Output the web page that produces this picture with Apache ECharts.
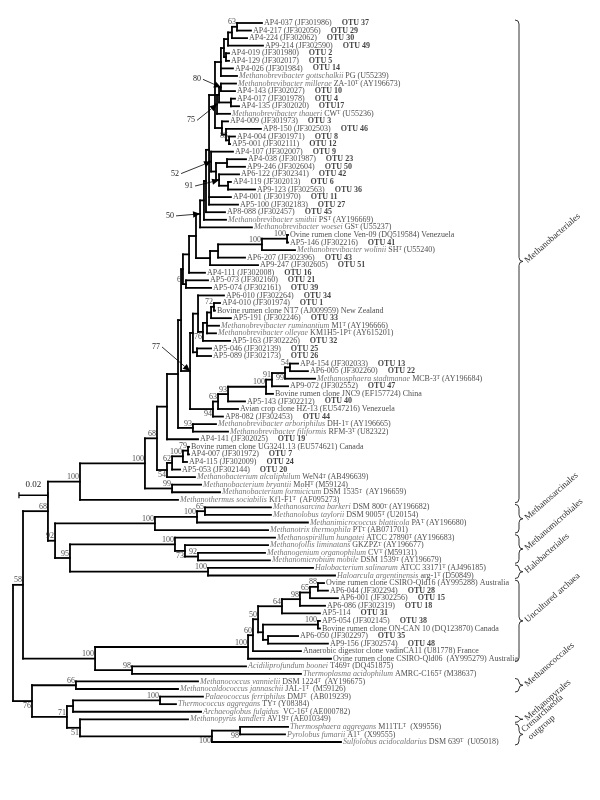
<!DOCTYPE html>
<html><head><meta charset="utf-8">
<script src="https://cdn.jsdelivr.net/npm/echarts@6/dist/echarts.min.js"></script>
<style>html,body{margin:0;padding:0;background:#fff}#c{width:600px;height:800px}</style>
</head><body><div id="c"></div>
<script>
// ---------- DATA ----------
// leaves, top to bottom; "^T" marks a superscript type-strain T
const leafTaxon = ['','','','','','','','Methanobrevibacter gottschalkii','Methanobrevibacter millerae','',
'','','Methanobrevibacter thaueri','','','','','','','',
'','','','','','','Methanobrevibacter smithii','Methanobrevibacter woesei','','',
'Methanobrevibacter wolinii','','','','','','','','','',
'Methanobrevibacter ruminantium','Methanobrevibacter olleyae','','','','','','Methanosphaera stadtmanae','','',
'','','','Methanobrevibacter arboriphilus','Methanobrevibacter filiformis','','','','','',
'Methanobacterium alcaliphilum','Methanobacterium bryantii','Methanobacterium formicicum','Methanothermus sociabilis','Methanosarcina barkeri','Methanolobus taylorii','Methanimicrococcus blatticola','Methanotrix thermophila','Methanospirillum hungatei','Methanofollis liminatans',
'Methanogenium organophilum','Methanomicrobium mobile','Halobacterium salinarum','Haloarcula argentinensis','','','','','','',
'','','','','','Acidiliprofundum boonei','Thermoplasma acidophilum','Methanococcus vannielii','Methanocaldococcus jannaschii','Palaeococcus ferriphilus',
'Thermococcus aggregans','Archaeoglobus fulgidus','Methanopyrus kandleri','Thermosphaera aggregans','Pyrolobus fumarii','Sulfolobus acidocaldarius'];
const leafDetail = ['AP4-037 (JF301986)','AP4-217 (JF302056)','AP4-224 (JF302062)','AP9-214 (JF302590)','AP4-019 (JF301980)','AP4-129 (JF302017)','AP4-026 (JF301984)','PG (U55239)','ZA-10^T (AY196673)','AP4-143 (JF302027)',
'AP4-017 (JF301978)','AP4-135 (JF302020)','CW^T (U55236)','AP4-009 (JF301973)','AP8-150 (JF302503)','AP4-004 (JF301971)','AP5-001 (JF302111)','AP4-107 (JF302007)','AP4-038 (JF301987)','AP9-246 (JF302604)',
'AP6-122 (JF302341)','AP4-119 (JF302013)','AP9-123 (JF302563)','AP4-001 (JF301970)','AP5-100 (JF302183)','AP8-088 (JF302457)','PS^T (AY196669)','GS^T (U55237)','Ovine rumen clone Ven-09 (DQ519584) Venezuela','AP5-146 (JF302216)',
'SH^T (U55240)','AP6-207 (JF302396)','AP9-247 (JF302605)','AP4-111 (JF302008)','AP5-073 (JF302160)','AP5-074 (JF302161)','AP6-010 (JF302264)','AP4-010 (JF301974)','Bovine rumen clone NT7 (AJ009959) New Zealand','AP5-191 (JF302246)',
'M1^T (AY196666)','KM1H5-1P^T (AY615201)','AP5-163 (JF302226)','AP5-046 (JF302139)','AP5-089 (JF302173)','AP4-154 (JF302033)','AP6-005 (JF302260)','MCB-3^T (AY196684)','AP9-072 (JF302552)','Bovine rumen clone JNC9 (EF157724) China',
'AP5-143 (JF302212)','Avian crop clone HZ-13 (EU547216) Venezuela','AP8-082 (JF302453)','DH-1^T (AY196665)','RFM-3^T (U82322)','AP4-141 (JF302025)','Bovine rumen clone UG3241.13 (EU574621) Canada','AP4-007 (JF301972)','AP4-115 (JF302009)','AP5-053 (JF302144)',
'WeN4^T (AB496639)','MoH^T (M59124)','DSM 1535^T  (AY196659)','Kf1-F1^T  (AF095273)','DSM 800^T (AY196682)','DSM 9005^T (U20154)','PA^T (AY196680)','PT^T (AB071701)','ATCC 27890^T (AY196683)','GKZPZ^T (AY196677)',
'CV^T (M59131)','DSM 1539^T (AY196679)','ATCC 33171^T (AJ496185)','arg-1^T (D50849)','Ovine rumen clone CSIRO-Qld16 (AY995288) Australia','AP6-044 (JF302294)','AP6-001 (JF302256)','AP6-086 (JF302319)','AP5-114','AP5-054 (JF302145)',
'Bovine rumen clone ON-CAN 10 (DQ123870) Canada','AP6-050 (JF302297)','AP9-156 (JF302574)','Anaerobic digestor clone vadinCA11 (U81778) France','Ovine rumen clone CSIRO-Qld06  (AY995279) Australia','T469^T (DQ451875)','AMRC-C165^T (M38637)','DSM 1224^T  (AY196675)','JAL-1^T  (M59126)','DMJ^T  (AB019239)',
'TY^T (Y08384)',' VC-16^T (AE000782)','AV19^T (AE010349)','M11TL^T  (X99556)','A1^T  (X99555)','DSM 639^T  (U05018)'];
const leafOtu = ['OTU 37','OTU 29','OTU 30','OTU 49','OTU 2','OTU 5','OTU 14','','','OTU 10',
'OTU 4','OTU17','','OTU 3','OTU 46','OTU 8','OTU 12','OTU 9','OTU 23','OTU 50',
'OTU 42','OTU 6','OTU 36','OTU 11','OTU 27','OTU 45','','','','OTU 41',
'','OTU 43','OTU 51','OTU 16','OTU 21','OTU 39','OTU 34','OTU 1','','OTU 33',
'','','OTU 32','OTU 25','OTU 26','OTU 13','OTU 22','','OTU 47','',
'OTU 40','','OTU 44','','','OTU 19','','OTU 7','OTU 24','OTU 20',
'','','','','','','','','','',
'','','','','','OTU 28','OTU 15','OTU 18','OTU 31','OTU 38',
'','OTU 35','OTU 48','','','','','','','',
'','','','','',''];
// root-to-tip distance (substitutions per site)
const leafDepth = [0.1717,0.1641,0.1614,0.1724,0.1490,0.1490,0.1517,0.1545,0.1538,0.1531,
0.1531,0.1559,0.1497,0.1483,0.1710,0.1531,0.1497,0.1517,0.1607,0.1600,
0.1559,0.1503,0.1669,0.1503,0.1552,0.1462,0.1469,0.1648,0.1897,0.1897,
0.1945,0.1600,0.1690,0.1324,0.1345,0.1366,0.1455,0.1428,0.1393,0.1503,
0.1421,0.1400,0.1497,0.1366,0.1366,0.1966,0.2034,0.2083,0.1897,0.1793,
0.1600,0.1552,0.1448,0.1400,0.1483,0.1276,0.1214,0.1214,0.1200,0.1152,
0.1255,0.1297,0.1428,0.1138,0.1779,0.1779,0.2034,0.1759,0.1807,0.1759,
0.1738,0.1772,0.2069,0.2221,0.2145,0.2172,0.2241,0.2152,0.2117,0.2117,
0.2117,0.1966,0.2172,0.1986,0.2193,0.1607,0.1986,0.1276,0.1138,0.1310,
0.1124,0.1297,0.1207,0.1897,0.1876,0.2262];
// clades: [first leaf, last leaf (1-based), root-to-node distance, bootstrap]
const clades = [
[1,2,0.1545,'63'],[1,3,0.1510,''],[1,4,0.1483,''],[5,6,0.1469,''],[1,6,0.1455,''],[1,8,0.1434,''],
[9,10,0.1434,'80'],[11,12,0.1503,''],[9,12,0.1421,''],[9,13,0.1407,'75'],
[16,17,0.1490,'85'],[15,17,0.1469,''],[14,17,0.1441,''],[1,17,0.1393,''],
[19,20,0.1476,''],[22,23,0.1483,''],[21,23,0.1421,'91'],[19,23,0.1400,''],[18,23,0.1366,'52'],
[1,25,0.1352,''],[1,26,0.1331,''],[1,27,0.1317,''],[1,28,0.1290,'50'],
[29,30,0.1890,'100'],[29,31,0.1717,'100'],[29,32,0.1414,''],[29,33,0.1359,''],
[1,33,0.1262,''],[1,34,0.1214,''],[35,36,0.1193,'61'],[1,36,0.1172,''],
[38,39,0.1386,'72'],[38,40,0.1366,''],[38,42,0.1338,''],[38,43,0.1310,'76'],[37,43,0.1276,''],
[44,45,0.1269,''],[37,45,0.1241,''],
[46,47,0.1910,'54'],[46,48,0.1876,'99'],[46,49,0.1786,'91'],[46,50,0.1745,'100'],[46,51,0.1483,'93'],
[46,52,0.1414,'63'],[46,53,0.1379,'94'],[37,53,0.1221,'77'],[1,53,0.1159,''],
[54,55,0.1241,'93'],[1,55,0.1138,''],[1,56,0.1062,''],
[57,58,0.1207,'79'],[57,59,0.1172,'100'],[57,60,0.1097,'62'],[57,61,0.1062,'54'],[1,61,0.0993,'68'],
[62,63,0.1097,'99'],[1,63,0.0910,'100'],[1,64,0.0462,'100'],
[65,66,0.1324,'65'],[65,67,0.1269,'100'],[65,68,0.0979,'100'],
[71,72,0.1276,'92'],[70,72,0.1186,'73'],[69,72,0.1117,'100'],[73,74,0.1345,'100'],
[69,74,0.0393,'95'],[65,74,0.0290,'92'],[1,74,0.0241,'68'],
[75,76,0.2103,'88'],[75,77,0.2048,'65'],[75,78,0.1979,'98'],[75,79,0.1855,'64'],
[80,81,0.2103,'100'],[82,83,0.1759,''],[80,83,0.1724,''],[75,83,0.1690,'50'],
[75,84,0.1655,'60'],[75,85,0.1621,'100'],[86,87,0.0821,'98'],[75,87,0.0566,'100'],[1,87,0.0069,'58'],
[88,89,0.0434,'66'],[90,91,0.1014,'100'],[90,92,0.0414,''],[94,95,0.1566,'98'],[94,96,0.1372,'100'],
[93,96,0.0462,'51'],[90,96,0.0372,'71'],[88,96,0.0131,'76']];
const groupNames = ['Methanobacteriales','Methanosarcinales','Methanomicrobiales','Halobacteriales','Uncultured archaea','Methanococcales','Methanopyrales','Crenarchaeota\noutgroup'];
const groupFirst = [1,65,69,73,75,88,93,94];
const groupLast  = [64,68,72,74,85,89,93,96];
const scaleLength = 0.02;
const scaleLabel = '0.02';

// ---------- LAYOUT / STYLE ----------
const FONT = '"Liberation Serif","Times New Roman","DejaVu Serif",serif';
const belowLabels = ['46-53','46-48','57-61','70-72','94-95','94-96','93-96','88-96','38-43'];
const arrowOffsets = {'9-10':[-20,-8],'9-13':[-22,16],'18-23':[-32,12],'21-23':[-26,6],'1-28':[-26,2],'37-53':[-30,-24]};
const braceX = 519;
const scalePos = [0.0041, 62.4];

// ---------- TREE ----------
const N = leafDepth.length;
const nodes = [{first:0,last:N-1,depth:0,support:'',root:true,key:'root'}];
clades.forEach(c=>nodes.push({first:c[0]-1,last:c[1]-1,depth:c[2],support:c[3],key:c[0]+'-'+c[1]}));
const leaves = leafDepth.map((d,i)=>({first:i,last:i,depth:d,leaf:true,y:i}));
const span = n=>n.last-n.first;
nodes.forEach(c=>c.children=[]);
nodes.concat(leaves).forEach(n=>{
  if(n.root) return;
  let best=null;
  nodes.forEach(c=>{
    if(c===n) return;
    if(c.first<=n.first && c.last>=n.last && span(c)>span(n)){
      if(!best || span(c)<span(best)) best=c;
    }
  });
  n.parent=best; best.children.push(n);
});
nodes.slice().sort((a,b)=>span(a)-span(b)).forEach(c=>{
  c.children.sort((a,b)=>a.first-b.first);
  c.y=(c.children[0].y+c.children[c.children.length-1].y)/2;
});
const segs=[];
nodes.concat(leaves).forEach(n=>{ if(n.parent) segs.push([n.parent.depth,n.y,n.depth,n.y]); });
nodes.forEach(c=>segs.push([c.depth,c.children[0].y,c.depth,c.children[c.children.length-1].y]));

const supAbove=[], supBelow=[], arrows=[];
nodes.forEach(c=>{
  if(!c.support) return;
  if(arrowOffsets[c.key]) arrows.push({depth:c.depth,y:c.y,text:c.support,off:arrowOffsets[c.key]});
  else if(belowLabels.indexOf(c.key)>=0) supBelow.push([c.depth,c.y,c.support]);
  else supAbove.push([c.depth,c.y,c.support]);
});

function leafRich(i){
  let s='';
  if(leafTaxon[i]) s+='{i|'+leafTaxon[i]+'} ';
  s+=leafDetail[i].split('^T').map(t=>t?'{n|'+t+'}':'').join('{s|T}');
  if(leafOtu[i]) s+='{n|     }{b|'+leafOtu[i]+'}';
  return s;
}

const chart = echarts.init(document.getElementById('c'));
const supLabel = (below)=>({show:true,formatter:p=>p.data[2],position:[-1,below?1:-0.5],align:'right',verticalAlign:below?'top':'bottom',fontSize:8,fontFamily:FONT,color:'#222'});
chart.setOption({
  animation:false,
  backgroundColor:'#fff',
  grid:{left:13,top:23,width:580,height:719},
  xAxis:{type:'value',min:0,max:0.4,show:false},
  yAxis:{type:'value',min:0,max:95,inverse:true,show:false},
  series:[
    {type:'custom',coordinateSystem:'cartesian2d',silent:true,data:segs,
     renderItem:(p,api)=>{
       const a=api.coord([api.value(0),api.value(1)]), b=api.coord([api.value(2),api.value(3)]);
       return {type:'line',shape:{x1:a[0],y1:a[1],x2:b[0],y2:b[1]},style:{stroke:'#000',lineWidth:1.8,lineCap:'square'}};
     }},
    {type:'scatter',silent:true,symbolSize:0,data:leafDepth.map((d,i)=>[d,i]),
     label:{show:true,position:'right',distance:2,fontSize:8,fontFamily:FONT,color:'#222',
       formatter:p=>leafRich(p.dataIndex),
       rich:{
         i:{fontSize:8,fontFamily:FONT,fontStyle:'italic',color:'#555'},
         n:{fontSize:8,fontFamily:FONT,color:'#222'},
         s:{fontSize:5.5,fontFamily:FONT,color:'#222',verticalAlign:'top'},
         b:{fontSize:8,fontFamily:FONT,fontWeight:'bold',color:'#111'}
       }}},
    {type:'scatter',silent:true,symbolSize:0,data:supAbove,label:supLabel(false)},
    {type:'scatter',silent:true,symbolSize:0,data:supBelow,label:supLabel(true)},
    {type:'custom',coordinateSystem:'cartesian2d',silent:true,data:arrows.map(a=>[a.depth,a.y]),
     renderItem:(p,api)=>{
       const a=arrows[p.dataIndex];
       const pt=api.coord([a.depth,a.y]);
       const lx=pt[0]+a.off[0], ly=pt[1]+a.off[1];
       const sx=lx+2, ang=Math.atan2(pt[1]-ly,pt[0]-sx);
       const L=7,W=3.2;
       const bx=pt[0]-L*Math.cos(ang), by=pt[1]-L*Math.sin(ang);
       const px=-Math.sin(ang)*W, py=Math.cos(ang)*W;
       return {type:'group',children:[
         {type:'text',x:lx,y:ly,style:{text:a.text,align:'right',verticalAlign:'middle',fontSize:8,fontFamily:FONT,fill:'#222'}},
         {type:'line',shape:{x1:sx,y1:ly,x2:bx,y2:by},style:{stroke:'#000',lineWidth:0.8}},
         {type:'polygon',shape:{points:[[pt[0],pt[1]],[bx+px,by+py],[bx-px,by-py]]},style:{fill:'#000'}}
       ]};
     }},
    {type:'custom',coordinateSystem:'cartesian2d',silent:true,data:[scalePos],
     renderItem:(p,api)=>{
       const a=api.coord([api.value(0),api.value(1)]), b=api.coord([api.value(0)+scaleLength,api.value(1)]);
       return {type:'group',children:[
         {type:'line',shape:{x1:a[0],y1:a[1],x2:b[0],y2:b[1]},style:{stroke:'#000',lineWidth:1.5}},
         {type:'line',shape:{x1:a[0],y1:a[1]-3,x2:a[0],y2:a[1]+3},style:{stroke:'#000',lineWidth:1.2}},
         {type:'line',shape:{x1:b[0],y1:b[1]-3,x2:b[0],y2:b[1]+3},style:{stroke:'#000',lineWidth:1.2}},
         {type:'text',x:(a[0]+b[0])/2,y:a[1]-6,style:{text:scaleLabel,align:'center',verticalAlign:'bottom',fontSize:9,fontFamily:FONT,fill:'#222'}}
       ]};
     }},
    {type:'custom',coordinateSystem:'cartesian2d',silent:true,data:groupFirst.map((f,i)=>[f-1,groupLast[i]-1]),
     renderItem:(p,api)=>{
       const y1=api.coord([0,api.value(0)])[1]-3, y2=api.coord([0,api.value(1)])[1]+3;
       const ym=(y1+y2)/2, x=braceX, r=Math.min(4,(y2-y1)/4), w=4;
       const d='M'+(x-w)+' '+y1+' Q'+x+' '+y1+' '+x+' '+(y1+r)+' L'+x+' '+(ym-r)+' Q'+x+' '+ym+' '+(x+w)+' '+ym+
               ' Q'+x+' '+ym+' '+x+' '+(ym+r)+' L'+x+' '+(y2-r)+' Q'+x+' '+y2+' '+(x-w)+' '+y2;
       return {type:'group',children:[
         {type:'path',shape:{pathData:d},style:{fill:null,stroke:'#333',lineWidth:1}},
         {type:'text',x:x+7,y:ym,rotation:0.72,style:{text:groupNames[p.dataIndex],align:'left',verticalAlign:'middle',fontSize:9,fontFamily:FONT,fill:'#333',lineHeight:10}}
       ]};
     }}
  ]
});
</script></body></html>
